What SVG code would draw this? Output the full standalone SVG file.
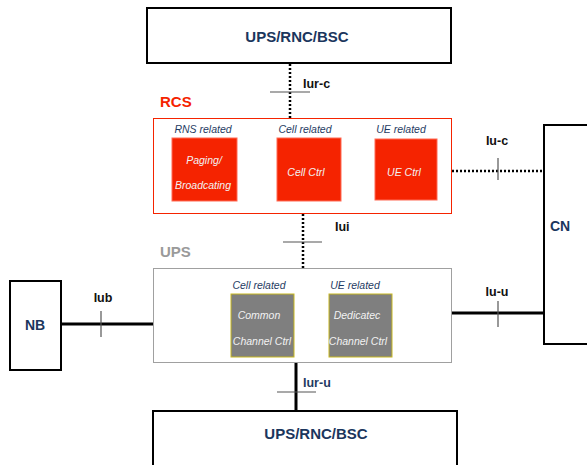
<svg xmlns="http://www.w3.org/2000/svg" width="587" height="465" viewBox="0 0 587 465">
  <style>
    .box { fill: #ffffff; stroke: #000000; stroke-width: 2; }
    .title { font-family: "Liberation Sans", Arial, sans-serif; font-weight: bold; fill: #1b365d; }
    .iface { font-family: "Liberation Sans", Arial, sans-serif; font-weight: bold; font-size: 12.5px; fill: #111111; }
    .grp { font-family: "Liberation Sans", Arial, sans-serif; font-weight: bold; font-size: 15px; }
    .rel { font-family: "Liberation Sans", Arial, sans-serif; font-style: italic; font-size: 10.5px; fill: #1f3b63; text-anchor: middle; }
    .func { font-family: "Liberation Sans", Arial, sans-serif; font-style: italic; font-size: 10.5px; fill: #f2f2f2; text-anchor: middle; }
    .red { fill: #f52300; stroke: #ff6a55; stroke-width: 1; }
    .gray { fill: #7f7f7f; stroke: #c8b820; stroke-width: 1; }
    .dot { stroke: #000000; stroke-width: 2.5; stroke-dasharray: 2 2; fill: none; }
    .thick { stroke: #000000; stroke-width: 3; fill: none; }
    .tick { stroke: #555555; stroke-width: 1.2; }
  </style>

  <!-- connectors -->
  <g id="connectors">
    <line class="dot" x1="290" y1="64" x2="290" y2="118"/>
    <line class="tick" x1="270" y1="92" x2="310" y2="92"/>
    <line class="dot" x1="303" y1="214" x2="303" y2="268"/>
    <line class="tick" x1="283" y1="242" x2="322" y2="242"/>
    <line class="dot" x1="452" y1="171" x2="544" y2="171"/>
    <line class="tick" x1="498" y1="158" x2="498" y2="180"/>
    <line class="thick" x1="451" y1="313" x2="544" y2="313"/>
    <line class="tick" x1="498" y1="301" x2="498" y2="327"/>
    <line class="thick" x1="61" y1="324" x2="153" y2="324"/>
    <line class="tick" x1="101" y1="311" x2="101" y2="337"/>
    <line class="thick" x1="296" y1="363" x2="296" y2="411"/>
    <line class="tick" x1="277" y1="392" x2="316" y2="392"/>
    <text class="iface" x="303" y="88">Iur-c</text>
    <text class="iface" x="335" y="231">Iui</text>
    <text class="iface" x="497" y="145" text-anchor="middle">Iu-c</text>
    <text class="iface" x="497" y="296" text-anchor="middle">Iu-u</text>
    <text class="iface" x="103" y="302" text-anchor="middle">Iub</text>
    <text class="iface" x="303" y="387" style="fill:#1f3b63">Iur-u</text>
  </g>

  <g id="top-rnc">
    <rect class="box" x="147" y="8" width="304" height="55"/>
    <text class="title" x="297" y="42" font-size="15" text-anchor="middle">UPS/RNC/BSC</text>
  </g>

  <g id="rcs">
    <text class="grp" x="160" y="107" fill="#f52300">RCS</text>
    <rect x="153.5" y="118.5" width="298" height="95" fill="#ffffff" stroke="#f52300" stroke-width="1"/>
    <text class="rel" x="203" y="133">RNS related</text>
    <text class="rel" x="305" y="133">Cell related</text>
    <text class="rel" x="401" y="133">UE related</text>
    <g id="paging">
      <rect class="red" x="172" y="138" width="65" height="63"/>
      <text class="func" x="204" y="164">Paging/</text>
      <text class="func" x="203" y="189">Broadcating</text>
    </g>
    <g id="cell-ctrl">
      <rect class="red" x="277" y="138" width="64" height="63"/>
      <text class="func" x="306" y="176">Cell Ctrl</text>
    </g>
    <g id="ue-ctrl">
      <rect class="red" x="375" y="139" width="62" height="61"/>
      <text class="func" x="404" y="176">UE Ctrl</text>
    </g>
  </g>

  <g id="ups">
    <text class="grp" x="160" y="257" fill="#9a9a9a">UPS</text>
    <rect x="153.5" y="268.5" width="298" height="94" fill="#ffffff" stroke="#a0a0a0" stroke-width="1"/>
    <text class="rel" x="259" y="289">Cell related</text>
    <text class="rel" x="355" y="289">UE related</text>
    <g id="common-ctrl">
      <rect class="gray" x="231" y="294" width="63" height="63"/>
      <text class="func" x="259" y="319">Common</text>
      <text class="func" x="262" y="345">Channel Ctrl</text>
    </g>
    <g id="dedicated-ctrl">
      <rect class="gray" x="329" y="294" width="63" height="63"/>
      <text class="func" x="357" y="319">Dedicatec</text>
      <text class="func" x="358" y="345">Channel Ctrl</text>
    </g>
  </g>

  <g id="nb">
    <rect class="box" x="10" y="281" width="51" height="89"/>
    <text class="title" x="35" y="330" font-size="14" text-anchor="middle">NB</text>
  </g>

  <g id="cn">
    <rect class="box" x="544" y="125" width="50" height="219"/>
    <text class="title" x="550" y="231" font-size="14">CN</text>
  </g>

  <g id="bottom-rnc">
    <rect class="box" x="153" y="411" width="304" height="60"/>
    <text class="title" x="316" y="439" font-size="15" text-anchor="middle">UPS/RNC/BSC</text>
  </g>
</svg>
